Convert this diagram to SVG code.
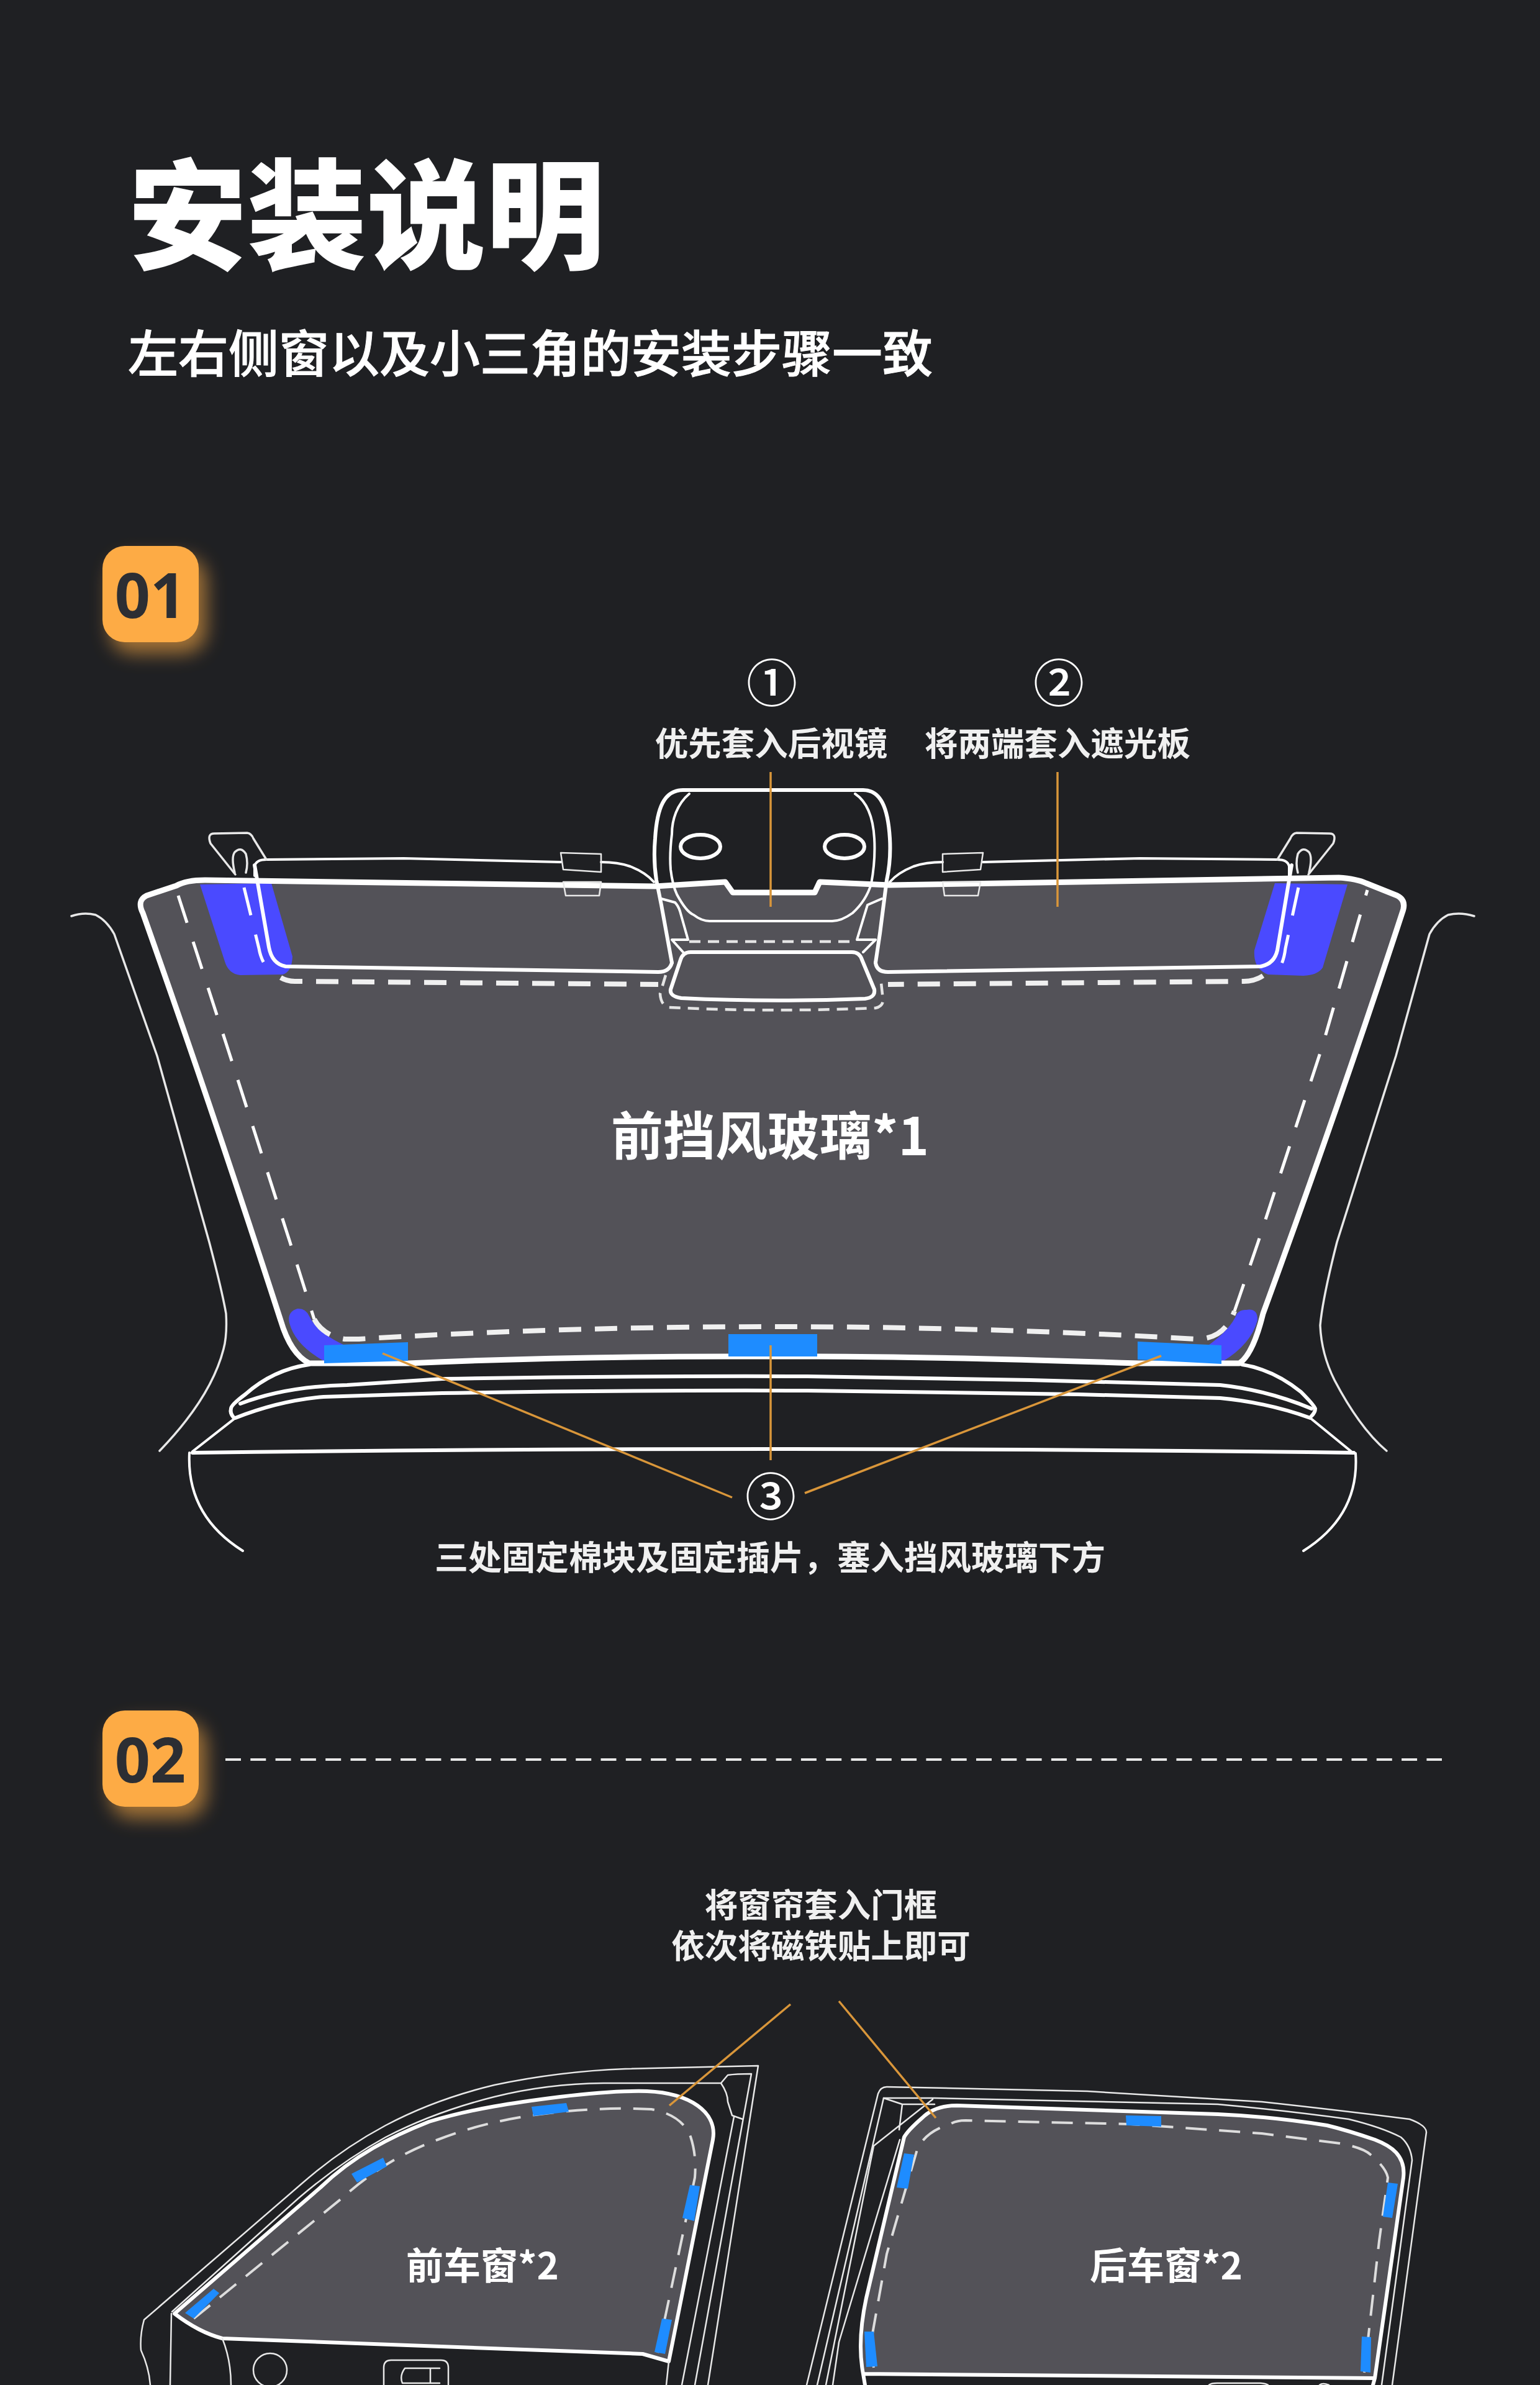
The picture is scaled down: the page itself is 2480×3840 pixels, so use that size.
<svg xmlns="http://www.w3.org/2000/svg" width="2480" height="3840" viewBox="0 0 2480 3840">
<defs>
<filter id="glow" x="-50%" y="-50%" width="200%" height="200%"><feGaussianBlur stdDeviation="15"/></filter>
<style>
text{font-family:"Noto Sans CJK SC","Noto Sans",sans-serif;fill:#fff}
.l{font-size:53.5px;font-weight:700;text-anchor:middle;fill:#f0f0f0}
.n{font-size:82px;font-weight:500;text-anchor:middle}
.h{font-weight:700;text-anchor:middle}
.b{font-size:100px;font-weight:700;text-anchor:middle;fill:#2c2e33;font-family:"Noto Sans","Noto Sans CJK SC",sans-serif}
.w{fill:none;stroke:#fff;stroke-linecap:round;stroke-linejoin:round}
.t1{stroke-width:2.5;stroke:#e8e8e8}.t2{stroke-width:4}.t3{stroke-width:6}.t4{stroke-width:9}
.d1{stroke-width:5;stroke-dasharray:46 32;stroke-linecap:butt}
.d2{stroke-width:8;stroke-dasharray:36 22;stroke-linecap:butt;stroke:#f0f0f0}
.d3{stroke-width:4.5;stroke-dasharray:18 12;stroke-linecap:butt;stroke:#e4e4e4}
.d4{stroke-width:4;stroke-dasharray:34 20;stroke-linecap:butt;stroke:#ddd}
.g{fill:#535258}
.p{fill:#4a4aff}
.c{fill:#1e8cff}
.o{stroke:#d9963a;stroke-width:3.5;fill:none}
</style>
</defs>
<rect width="2480" height="3840" fill="#1f2023"/>

<g id="title">
<text x="590" y="418" class="h" style="font-size:192px;font-weight:900">安装说明</text>
<text x="854" y="599" style="font-size:81px;font-weight:500;text-anchor:middle;stroke:#fff;stroke-width:1">左右侧窗以及小三角的安装步骤一致</text>
</g>

<g id="badge-01">
<rect x="177" y="897" width="155" height="155" rx="36" fill="#fdab45" opacity=".6" filter="url(#glow)"/>
<rect x="165" y="879" width="155" height="155" rx="36" fill="#fdab45"/>
<text x="242" y="995" class="b">01</text>
</g>

<g id="windshield">
<g id="pillars">
<path class="w t1" style="stroke-width:3.5" d="M115 1475Q135 1468 154 1473Q172 1482 184 1504L253 1700L337 2000Q358 2080 364 2115Q366 2150 360 2172Q340 2250 257 2336"/>
<path class="w t1" style="stroke-width:3.5" d="M2374 1475Q2352 1468 2332 1473Q2314 1482 2302 1504L2248 1700L2153 2000Q2130 2090 2126 2134Q2128 2180 2149 2222Q2190 2300 2233 2336"/>
</g>
<g id="hood">
<path class="w t3" d="M498 2197Q440 2205 395 2245Q372 2262 372 2268Q370 2275 376 2282"/>
<path class="w t3" d="M2000 2197Q2050 2205 2095 2241Q2116 2262 2118 2268Q2118 2274 2112 2280"/>
<path class="w t3" d="M387 2260Q460 2232 559 2230L712 2220Q1000 2215 1300 2216L1659 2222L1965 2230Q2040 2238 2112 2268"/>
<path class="w t3" d="M379 2283Q450 2255 521 2249L712 2243Q1000 2238 1300 2239L1736 2245L1965 2251Q2040 2258 2110 2283"/>
<path class="w t3" d="M310 2339Q1240 2327 2180 2339"/>
<path class="w t2" d="M379 2283L310 2337M2110 2283L2176 2337"/>
<path class="w t2" d="M305 2339Q300 2440 391 2497M2183 2340Q2190 2440 2099 2497"/>
</g>
<path id="glass" class="g" d="M230 1470Q220 1450 236 1442L284 1426Q300 1417 330 1417L1055 1427L1168 1420L1180 1437H1312L1320 1420L1432 1425L2156 1413Q2185 1415 2200 1422L2250 1442Q2266 1450 2258 1470Q2160 1770 2034 2115Q2018 2180 1996 2195L1835 2195Q1500 2184 1315 2184H1171Q900 2184 658 2195H498Q468 2180 452 2126Q340 1780 230 1470Z"/>
<g id="pads">
<path class="p" d="M322 1424L437 1422L471 1540Q470 1565 455 1569L387 1570Q368 1568 362 1548Z"/>
<path class="p" d="M2053 1422L2170 1424L2130 1558Q2122 1570 2099 1571L2042 1569Q2018 1560 2020 1530Z"/>
<path class="p" d="M479 2107Q462 2112 466 2130Q475 2165 521 2191L555 2166Q510 2145 498 2119Q492 2106 479 2107Z"/>
<path class="p" d="M2007 2109Q2026 2106 2025 2126Q2014 2165 1969 2192L1946 2166Q1982 2140 1992 2115Q1998 2108 2007 2109Z"/>
</g>
<path id="glass-edge" class="w t4" d="M230 1470Q220 1450 236 1442L284 1426Q300 1417 330 1417L1055 1427L1168 1420L1180 1437H1312L1320 1420L1432 1425L2156 1413Q2185 1415 2200 1422L2250 1442Q2266 1450 2258 1470Q2160 1770 2034 2115Q2018 2180 1996 2195L1835 2195Q1500 2184 1315 2184H1171Q900 2184 658 2195H498Q468 2180 452 2126Q340 1780 230 1470Z"/>
<g id="tapes">
<path class="c" d="M522 2166L657 2161V2191L522 2195Z"/>
<path class="c" d="M1173 2148H1316V2184H1173Z"/>
<path class="c" d="M1832 2160L1967 2166V2196L1832 2189Z"/>
</g>
<g id="seams">
<path class="w d1" d="M287 1442L368 1692L467 2000L506 2124"/>
<path class="w d2" d="M506 2124Q520 2150 555 2156H578Q1240 2116 1927 2156Q1960 2156 1977 2132Q1985 2120 1988 2111"/>
<path class="w d1" d="M1988 2111L2026 2000L2130 1683L2202 1433"/>
<path class="w d2" d="M452 1574Q462 1580 475 1580L1060 1585"/>
<path class="w d2" d="M2034 1571Q2020 1580 2003 1580L1430 1585"/>
<path class="w d1" d="M393 1429L417 1527Q420 1545 430 1558"/>
<path class="w d1" d="M2091 1429L2070 1527Q2068 1545 2061 1558"/>
</g>
<g id="visors">
<path class="w t3" d="M410 1393L433 1525Q438 1552 460 1556L1060 1565Q1078 1565 1082 1550"/>
<path class="w t3" d="M1410 1550Q1412 1565 1430 1565L2030 1556Q2052 1552 2057 1530L2080 1393"/>
<path class="w t2" d="M410 1410V1395Q412 1384 429 1384L650 1382L903 1388M968 1388Q995 1388 1015 1395Q1040 1405 1053 1420"/>
<path class="w t2" d="M2076 1410V1395Q2074 1384 2057 1384L1836 1382L1583 1388M1518 1388Q1491 1388 1471 1395Q1446 1405 1433 1420"/>
<path class="w t1" d="M903 1373L968 1375V1404L907 1400ZM907 1420H968L965 1442H911Z"/>
<path class="w t1" d="M1583 1373L1518 1375V1404L1579 1400ZM1579 1420H1518L1521 1442H1575Z"/>
<path class="w t1" style="stroke-width:3.5" d="M379 1408L339 1358Q333 1342 345 1342L398 1341Q405 1342 408 1350L429 1384"/>
<path class="w t1" style="stroke-width:3.5" d="M2107 1408L2147 1358Q2153 1342 2141 1342L2088 1341Q2081 1342 2078 1350L2057 1384"/>
<path class="w t1" style="stroke-width:3.5" d="M378 1405Q372 1380 378 1372Q388 1362 396 1375Q400 1390 396 1405"/>
<path class="w t1" style="stroke-width:3.5" d="M2108 1405Q2114 1380 2108 1372Q2098 1362 2090 1375Q2086 1390 2090 1405"/>
</g>
<g id="mirror">
<path class="w t3" d="M1082 1550L1065 1457L1057 1417Q1052 1385 1055 1350C1058 1300 1070 1272 1100 1272H1390C1418 1272 1430 1300 1433 1350Q1435 1385 1428 1417L1417 1503L1410 1550"/>
<path class="w t2" d="M1110 1278C1090 1295 1082 1320 1082 1343Q1078 1375 1080 1400Q1083 1425 1090 1440Q1105 1468 1117 1473Q1130 1483 1143 1483H1340Q1355 1483 1373 1470Q1395 1450 1403 1423Q1410 1385 1408 1350C1406 1315 1395 1290 1377 1278"/>
<ellipse class="w t3" cx="1128" cy="1363" rx="32" ry="19"/>
<ellipse class="w t3" cx="1360" cy="1363" rx="32" ry="19"/>
<path class="w t2" d="M1065 1447L1087 1453Q1092 1458 1095 1467L1108 1513L1082 1513L1100 1533"/>
<path class="w t2" d="M1420 1447L1397 1457L1380 1513L1410 1513L1390 1533"/>
<path class="w d3" d="M1110 1516H1378"/>
<path class="w t3" d="M1112 1533H1372Q1384 1533 1388 1545L1408 1593Q1410 1606 1393 1608Q1240 1614 1097 1607Q1078 1604 1080 1593L1096 1545Q1100 1533 1112 1533Z"/>
<path class="w d3" d="M1072 1570L1063 1600Q1064 1618 1077 1622Q1240 1630 1410 1623Q1422 1620 1422 1610L1418 1573"/>
</g>
<text x="1240" y="1860" class="h" style="font-size:84px">前挡风玻璃*1</text>
</g>

<g id="step-1-labels">
<text x="1243" y="1130" class="n">①</text>
<text x="1705" y="1130" class="n">②</text>
<text x="1241" y="2440" class="n">③</text>
<text x="1242" y="1217" class="l">优先套入后视镜</text>
<text x="1703" y="1217" class="l">将两端套入遮光板</text>
<text x="1240" y="2528" class="l" style="font-size:54px">三处固定棉块及固定插片，塞入挡风玻璃下方</text>
</g>

<g id="badge-02">
<rect x="177" y="2772" width="155" height="155" rx="36" fill="#fdab45" opacity=".6" filter="url(#glow)"/>
<rect x="165" y="2754" width="155" height="155" rx="36" fill="#fdab45"/>
<text x="242" y="2870" class="b">02</text>
</g>
<path id="divider" d="M363 2833H2322" stroke="#e8e8e8" stroke-width="4" stroke-dasharray="25 15.3" fill="none"/>

<g id="step-2-label">
<text x="1322" y="3087" class="l">将窗帘套入门框</text>
<text x="1322" y="3153" class="l">依次将磁铁贴上即可</text>
</g>

<g id="front-window">
<path id="fw-glass" class="g" d="M281 3725Q320 3755 358 3765L1035 3790L1077 3802L1148 3445C1156 3400 1110 3370 1042 3367C1000 3366 950 3370 902 3376C830 3385 760 3395 691 3416C630 3440 570 3470 516 3522Z"/>
<path class="w t3" d="M281 3725Q320 3755 358 3765L1035 3790L1077 3802L1148 3445C1156 3400 1110 3370 1042 3367C1000 3366 950 3370 902 3376C830 3385 760 3395 691 3416C630 3440 570 3470 516 3522Z"/>
<path class="w d4" d="M312 3733L551 3539C600 3495 650 3465 705 3445C770 3420 830 3408 902 3400C950 3396 1000 3393 1049 3396Q1098 3405 1112 3440Q1122 3470 1119 3506L1059 3788"/>
<path class="c" d="M344 3685L353 3692L312 3733L298 3724Z"/>
<path class="c" d="M617 3474L623 3488L575 3514L566 3500Z"/>
<path class="c" d="M856 3392L912 3386L916 3400L859 3407Z"/>
<path class="c" d="M1111 3518L1127 3520L1118 3576L1099 3571Z"/>
<path class="c" d="M1066 3733L1082 3735L1071 3790L1054 3787Z"/>
<path class="w t1" d="M242 3840Q240 3812 227 3784Q225 3760 232 3735L488 3514Q550 3460 621 3422Q700 3380 796 3357Q900 3335 1007 3331L1221 3326L1140 3840"/>
<path class="w t1" d="M277 3722L481 3539Q550 3480 621 3441Q700 3400 796 3376Q880 3355 972 3354L1161 3354L1172 3341Q1185 3339 1210 3339L1119 3840"/>
<path class="w t1" d="M1161 3354Q1172 3370 1172 3384L1179 3406L1196 3412M1182 3408L1098 3840M1077 3802L1073 3840"/>
<path class="w t1" d="M276 3725L274 3840M358 3765Q372 3800 372 3840"/>
<ellipse class="w t1" cx="435" cy="3816" rx="27" ry="27"/>
<path class="w t1" d="M618 3840V3812Q618 3800 630 3800H710Q722 3800 722 3812V3840M708 3813H652Q643 3825 648 3837H708M693 3813V3837"/>
<text x="777" y="3670" class="h" style="font-size:60px">前车窗*2</text>
</g>

<g id="rear-window">
<path class="g" d="M1390 3822L2214 3829L2260 3506C2264 3470 2240 3455 2214 3445Q2170 3430 2137 3422Q2050 3408 1961 3404L1541 3390Q1505 3390 1485 3410Q1462 3430 1456 3441L1395 3700Q1380 3770 1390 3822Z"/>
<path class="w t3" d="M1393 3840L1390 3822L2214 3829L2211 3840M2214 3829L2260 3506C2264 3470 2240 3455 2214 3445Q2170 3430 2137 3422Q2050 3408 1961 3404L1541 3390Q1505 3390 1485 3410Q1462 3430 1456 3441L1395 3700Q1380 3770 1390 3822"/>
<path class="w d4" d="M1407 3812Q1402 3780 1404 3763L1428 3629L1477 3461Q1490 3432 1530 3420Q1540 3414 1555 3414L1821 3420L2032 3435L2158 3451Q2195 3458 2207 3469Q2232 3490 2235 3506L2221 3608L2197 3820"/>
<path class="c" d="M1456 3467L1472 3469L1462 3524L1444 3522Z"/>
<path class="c" d="M1813 3406L1870 3407V3424L1814 3422Z"/>
<path class="c" d="M2235 3514L2251 3516L2242 3571L2227 3569Z"/>
<path class="c" d="M2193 3762L2208 3763L2207 3820L2191 3818Z"/>
<path class="c" d="M1392 3754H1407L1413 3810L1395 3811Z"/>
<path class="w t1" d="M1299 3840L1414 3371Q1418 3360 1428 3360L1751 3367L2032 3384Q2160 3398 2270 3412Q2297 3422 2297 3433L2242 3840"/>
<path class="w t1" d="M1316 3840L1423 3378H1505L1961 3388Q2070 3398 2172 3412Q2225 3425 2256 3441Q2272 3455 2274 3478L2225 3840"/>
<path class="w t1" d="M1330 3840L1407 3455L1502 3380M1423 3378L1453 3388H1505M1453 3388L1448 3429"/>
<path class="w t1" d="M1341 3840L1351 3771L1449 3445"/>
<path class="w t1" d="M1947 3840Q1950 3837 1960 3837H2030Q2040 3838 2042 3840M2125 3840Q2130 3836 2140 3840"/>
<text x="1878" y="3670" class="h" style="font-size:60px">后车窗*2</text>
</g>

<g id="connectors">
<path class="o" d="M1241 1243V1460"/>
<path class="o" d="M1703 1243V1460"/>
<path class="o" d="M616 2179L1179 2411"/>
<path class="o" d="M1241 2166V2351"/>
<path class="o" d="M1870 2183L1296 2404"/>
<path class="o" d="M1273 3227L1078 3390"/>
<path class="o" d="M1351 3222L1507 3410"/>
</g>
</svg>
